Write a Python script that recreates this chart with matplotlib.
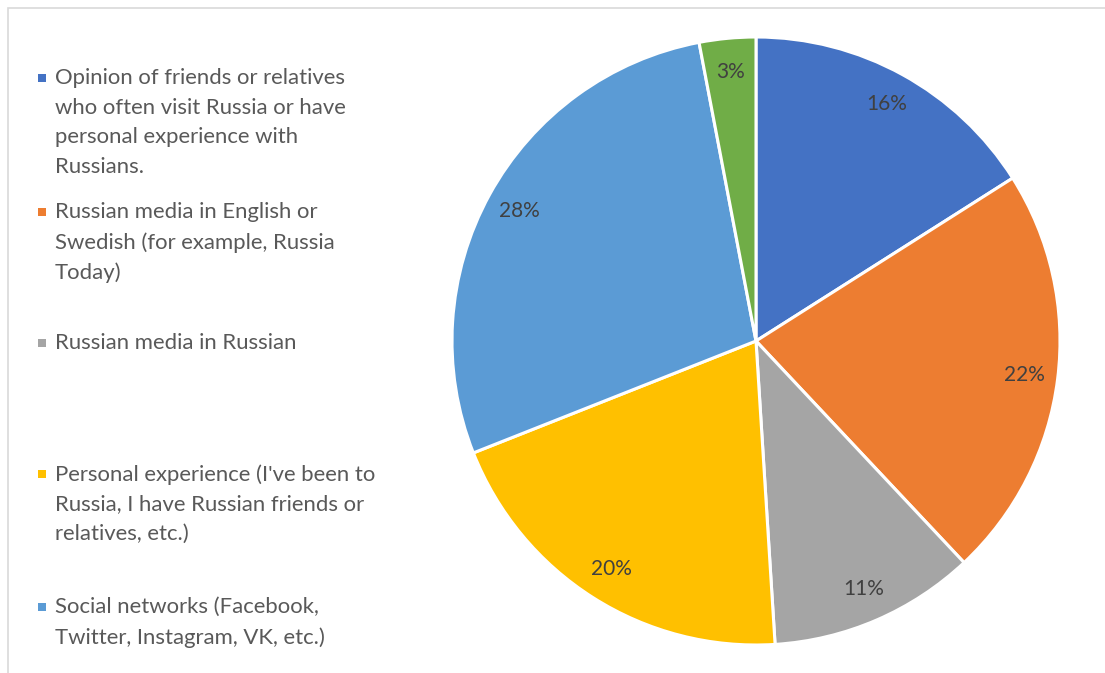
import matplotlib.pyplot as plt
from matplotlib.patches import Rectangle

plt.rcParams["font.family"] = ["Lato", "DejaVu Sans"]

labels = [
    "Opinion of friends or relatives\nwho often visit Russia or have\npersonal experience with\nRussians.",
    "Russian media in English or\nSwedish (for example, Russia\nToday)",
    "Russian media in Russian",
    "Personal experience (I've been to\nRussia, I have Russian friends or\nrelatives, etc.)",
    "Social networks (Facebook,\nTwitter, Instagram, VK, etc.)",
    "Other",
]
shares = [16, 22, 11, 20, 28, 3]
colors = ["#4472C4", "#ED7D31", "#A5A5A5", "#FFC000", "#5B9BD5", "#70AD47"]
legend_y = [78, 212, 343, 474, 607]  # pixel rows of first text line

W, H = 1105, 673
fig = plt.figure(figsize=(W / 100, H / 100), dpi=100)

# chart border, open at the right and bottom
fig.add_artist(Rectangle((8 / W, -0.1), 1.2, (H - 8) / H + 0.1, transform=fig.transFigure,
                         fill=False, edgecolor="#D9D9D9", linewidth=1.2))

cx, cy, r = 756, 341, 304
ax = fig.add_axes([(cx - r) / W, (H - cy - r) / H, 2 * r / W, 2 * r / H])
wedges, texts, autotexts = ax.pie(
    shares, colors=colors, startangle=90, counterclock=False, radius=1,
    autopct="%d%%", pctdistance=0.89,
    wedgeprops=dict(edgecolor="white", linewidth=2.2),
    textprops=dict(color="#404040", fontsize=15),
)
ax.set_xlim(-1, 1)
ax.set_ylim(-1, 1)
ax.set_aspect("equal")
ax.axis("off")

# legend: first five categories only
for lab, col, y in zip(labels[:5], colors[:5], legend_y):
    fig.add_artist(Rectangle((38 / W, 1 - (y + 4) / H), 8 / W, 8 / H,
                             transform=fig.transFigure, facecolor=col, edgecolor="none"))
    fig.text(55 / W, 1 - (y - 10) / H, lab, ha="left", va="top", fontsize=15.9,
             color="#595959", linespacing=1.6)

fig.savefig("out.png", dpi=100)
